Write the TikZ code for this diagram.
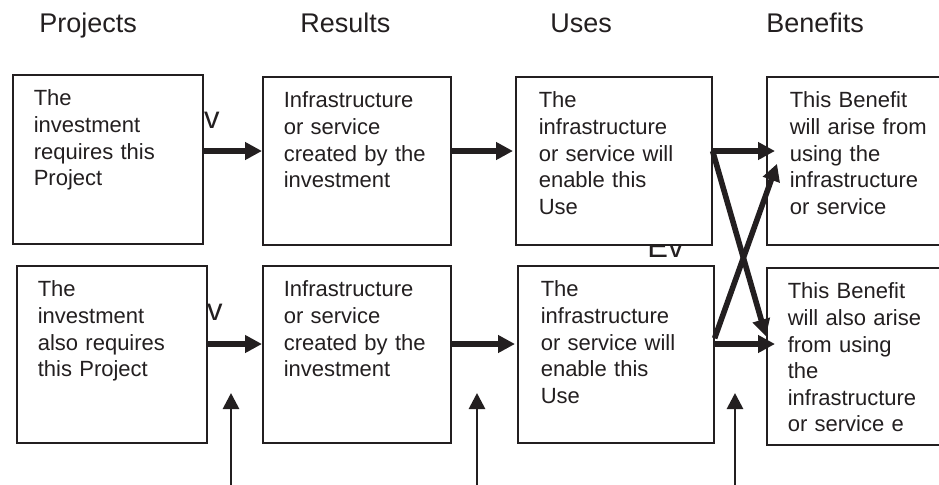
\documentclass[tikz,border=0pt]{standalone}
\usepackage{fontspec}
\setmainfont{Liberation Sans}
\usetikzlibrary{arrows.meta}
\definecolor{ink}{RGB}{35,31,32}

\begin{document}
\begin{tikzpicture}[x=0.5pt,y=-0.5pt,
		head/.style={anchor=base west,inner sep=0pt,text=ink,font=\fontsize{13.5}{16}\selectfont},
		stray/.style={anchor=base west,inner sep=0pt,text=ink,font=\fontsize{15.5}{18}\selectfont},
		stage/.style={draw=ink,line width=0.8pt,fill=white,anchor=north west,align=left,text=ink,
			inner xsep=10.5pt,inner ysep=0pt,text height=15.5pt,font=\fontsize{11}{13.3}\selectfont},
		flow/.style={draw=ink,line width=2.8pt,-{Triangle[length=8.5pt,width=8.5pt]}},
		feed/.style={draw=ink,line width=1.4pt,-{Triangle[length=8pt,width=8pt]}}]
	\useasboundingbox (0,0) rectangle (939,484);
	\node[head] (hproj) at (39,32) {Projects};
	\node[head] (hres) at (300,32) {Results};
	\node[head] (huse) at (550,32) {Uses};
	\node[head] (hben) at (766,32) {Benefits};
	\node[stray] (ev1) at (183,128) {Ev};
	\node[stray] (ev2) at (186,320) {Ev};
	\node[stray] (ev3) at (647,257) {Ev};
	\node[stage,text width=74pt,text depth=69pt] (proj1) at (12,74) {The\\investment\\requires this\\Project};
	\node[stage,text width=73pt,text depth=68.5pt] (res1) at (262,76) {Infrastructure\\or service\\created by the\\investment};
	\node[stage,inner xsep=11.5pt,text width=75pt,text depth=68.5pt] (use1) at (515,76) {The\\infrastructure\\or service will\\enable this\\Use};
	\node[stage,inner xsep=11.5pt,text width=69pt,text depth=68.5pt] (ben1) at (766,76) {This Benefit\\will arise from\\using the\\infrastructure\\or service};
	\node[stage,text width=74pt,text depth=73pt] (proj2) at (16,265) {The\\investment\\also requires\\this Project};
	\node[stage,text width=73pt,text depth=73pt] (res2) at (262,265) {Infrastructure\\or service\\created by the\\investment};
	\node[stage,inner xsep=11.5pt,text width=75pt,text depth=73pt] (use2) at (517,265) {The\\infrastructure\\or service will\\enable this\\Use};
	\node[stage,inner xsep=10.5pt,text width=71pt,text depth=73pt] (ben2) at (766,267) {This Benefit\\will also arise\\from using\\the\\infrastructure\\or service e};
	\coordinate (upper) at (0,151);
	\coordinate (lower) at (0,344);
	\draw[flow] (proj1.east |- upper) -- (res1.west |- upper);
	\draw[flow] (res1.east |- upper) -- ([xshift=-1pt]use1.west |- upper);
	\draw[flow] (use1.east |- upper) -- ([xshift=4.5pt]ben1.west |- upper);
	\draw[flow] (use1.east |- upper) -- ([yshift=10pt]ben2.west);
	\draw[flow] ([yshift=8pt]use2.east) -- ([xshift=5.5pt,yshift=-1.5pt]ben1.west);
	\draw[flow] (proj2.east |- lower) -- (res2.west |- lower);
	\draw[flow] (res2.east |- lower) -- ([xshift=-1pt]use2.west |- lower);
	\draw[flow] (use2.east |- lower) -- ([xshift=4.5pt]ben2.west |- lower);
	\coordinate (in1) at (231,490);
	\coordinate (tip1) at (231,393);
	\coordinate (in2) at (477,490);
	\coordinate (tip2) at (477,393);
	\coordinate (in3) at (735,490);
	\coordinate (tip3) at (735,393);
	\draw[feed] (in1) -- (tip1);
	\draw[feed] (in2) -- (tip2);
	\draw[feed] (in3) -- (tip3);
\end{tikzpicture}
\end{document}
